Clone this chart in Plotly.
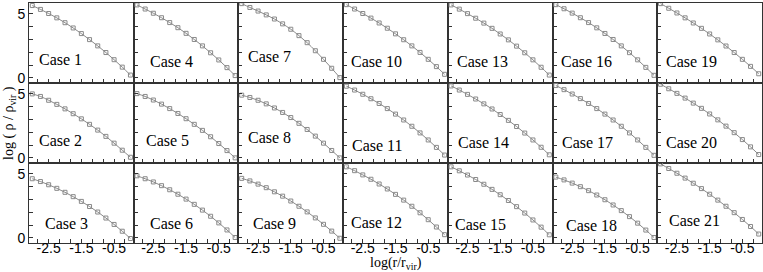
import plotly.graph_objects as go
from plotly.subplots import make_subplots

log_r = [-3.0, -2.75, -2.5, -2.25, -2.0, -1.75, -1.5, -1.25, -1.0, -0.75, -0.5, -0.25, 0.0]

case_1 = [5.65, 5.35, 5.03, 4.69, 4.31, 3.9, 3.46, 2.99, 2.5, 1.98, 1.42, 0.84, 0.22]
case_4 = [5.7, 5.38, 5.05, 4.7, 4.32, 3.92, 3.48, 3.0, 2.5, 1.96, 1.4, 0.8, 0.18]
case_7 = [5.8, 5.5, 5.22, 4.92, 4.6, 4.22, 3.8, 3.3, 2.75, 2.12, 1.45, 0.75, 0.02]
case_10 = [5.72, 5.38, 5.03, 4.67, 4.29, 3.88, 3.44, 2.98, 2.5, 1.99, 1.45, 0.88, 0.28]
case_13 = [5.7, 5.37, 5.02, 4.66, 4.28, 3.87, 3.43, 2.97, 2.48, 1.96, 1.41, 0.83, 0.22]
case_16 = [5.72, 5.4, 5.06, 4.7, 4.32, 3.91, 3.47, 3.0, 2.5, 1.97, 1.41, 0.82, 0.2]
case_19 = [5.8, 5.44, 5.07, 4.69, 4.29, 3.87, 3.43, 2.97, 2.49, 1.98, 1.45, 0.9, 0.32]

case_2 = [5.0, 4.8, 4.5, 4.18, 3.83, 3.45, 3.05, 2.62, 2.17, 1.68, 1.15, 0.6, 0.05]
case_5 = [5.02, 4.8, 4.52, 4.2, 3.85, 3.47, 3.06, 2.62, 2.15, 1.65, 1.12, 0.57, 0.0]
case_8 = [4.9, 4.72, 4.5, 4.22, 3.9, 3.55, 3.15, 2.7, 2.22, 1.7, 1.15, 0.58, 0.0]
case_11 = [5.6, 5.3, 4.97, 4.62, 4.25, 3.85, 3.42, 2.96, 2.47, 1.95, 1.4, 0.82, 0.22]
case_14 = [5.62, 5.3, 4.96, 4.6, 4.22, 3.82, 3.39, 2.93, 2.45, 1.94, 1.4, 0.83, 0.24]
case_17 = [5.65, 5.33, 4.99, 4.63, 4.25, 3.85, 3.42, 2.96, 2.47, 1.95, 1.4, 0.82, 0.2]
case_20 = [5.75, 5.4, 5.04, 4.67, 4.28, 3.87, 3.43, 2.97, 2.48, 1.97, 1.43, 0.86, 0.26]

case_3 = [4.62, 4.4, 4.15, 3.87, 3.56, 3.22, 2.85, 2.45, 2.02, 1.55, 1.05, 0.52, -0.05]
case_6 = [4.85, 4.62, 4.37, 4.08, 3.76, 3.41, 3.03, 2.62, 2.17, 1.69, 1.17, 0.62, 0.03]
case_9 = [4.65, 4.45, 4.2, 3.92, 3.6, 3.26, 2.88, 2.47, 2.03, 1.56, 1.06, 0.53, -0.03]
case_12 = [5.55, 5.25, 4.92, 4.58, 4.21, 3.82, 3.4, 2.95, 2.47, 1.96, 1.42, 0.85, 0.25]
case_15 = [5.55, 5.24, 4.91, 4.56, 4.19, 3.79, 3.37, 2.92, 2.44, 1.94, 1.4, 0.84, 0.24]
case_18 = [4.75, 4.53, 4.28, 4.0, 3.69, 3.35, 2.98, 2.57, 2.13, 1.66, 1.15, 0.61, 0.03]
case_21 = [5.78, 5.42, 5.05, 4.67, 4.27, 3.85, 3.41, 2.95, 2.47, 1.97, 1.44, 0.89, 0.3]

case_names = [
    ["Case 1", "Case 4", "Case 7", "Case 10", "Case 13", "Case 16", "Case 19"],
    ["Case 2", "Case 5", "Case 8", "Case 11", "Case 14", "Case 17", "Case 20"],
    ["Case 3", "Case 6", "Case 9", "Case 12", "Case 15", "Case 18", "Case 21"],
]
case_values = [
    [case_1, case_4, case_7, case_10, case_13, case_16, case_19],
    [case_2, case_5, case_8, case_11, case_14, case_17, case_20],
    [case_3, case_6, case_9, case_12, case_15, case_18, case_21],
]
x_tick_vals = [-2.5, -1.5, -0.5]
x_tick_text = ["-2.5", "-1.5", "-0.5"]
y_tick_vals = [0, 5]
y_tick_text = ["0", "5"]

# label placement within each panel (pixels from panel left / top)
label_pos = [
    [(8, 56), (14, 58), (8, 53), (6, 58), (7, 58), (6, 58), (7, 58)],
    [(8, 57), (10, 57), (8, 54), (7, 62), (8, 59), (7, 59), (7, 59)],
    [(14, 60), (14, 60), (13, 60), (6, 59), (5, 61), (11, 62), (10, 57)],
]

W, H = 763, 272
ML, MR, MT, MB = 29, 1, 3, 29
nrows, ncols = 3, 7
pw = (W - ML - MR) / ncols
ph = (H - MT - MB) / nrows

fig = make_subplots(rows=nrows, cols=ncols, horizontal_spacing=0, vertical_spacing=0)

line_col = "#8a8a8a"
axis_col = "#333333"

for r in range(nrows):
    for c in range(ncols):
        fig.add_trace(
            go.Scatter(
                x=log_r, y=case_values[r][c], mode="lines+markers",
                line=dict(color=line_col, width=1, shape="spline"),
                marker=dict(symbol="square-open", size=4, color=line_col, line=dict(width=1)),
                showlegend=False, hoverinfo="skip",
            ),
            row=r + 1, col=c + 1,
        )
        fig.update_xaxes(
            range=[-3.1, 0.1], tickvals=x_tick_vals, ticktext=x_tick_text,
            showticklabels=(r == nrows - 1), ticks="inside", ticklen=4, tickcolor=axis_col,
            ticklabelstandoff=-8,
            minor=dict(tick0=-2.5, dtick=1 / 3, ticks="inside", ticklen=4, tickcolor=axis_col),
            showline=True, linecolor=axis_col, linewidth=1, mirror=True,
            showgrid=False, zeroline=False,
            tickfont=dict(family="Liberation Sans", size=14, color="black"),
            row=r + 1, col=c + 1,
        )
        fig.update_yaxes(
            range=[-0.4, 5.85], tickvals=y_tick_vals, ticktext=y_tick_text,
            showticklabels=(c == 0), ticks="inside", ticklen=4, tickcolor=axis_col,
            minor=dict(dtick=1, ticks="inside", ticklen=4, tickcolor=axis_col),
            showline=True, linecolor=axis_col, linewidth=1, mirror=True,
            showgrid=False, zeroline=False,
            tickfont=dict(family="Liberation Sans", size=14, color="black"),
            row=r + 1, col=c + 1,
        )
        dx, dy = label_pos[r][c]
        px_left = ML + c * pw + dx
        py_center = MT + r * ph + dy
        fig.add_annotation(
            x=(px_left - ML) / (W - ML - MR), y=1 - (py_center - MT) / (H - MT - MB),
            xref="paper", yref="paper", xanchor="left", yanchor="middle",
            text=case_names[r][c], showarrow=False,
            font=dict(family="Liberation Serif", size=16, color="black"),
        )

fig.add_annotation(
    x=0.5, y=-11 / (H - MT - MB), xref="paper", yref="paper",
    text="log(r/r<sub>vir</sub>)", showarrow=False, yanchor="top", borderpad=0,
    font=dict(family="Liberation Serif", size=14, color="black"),
)
fig.add_annotation(
    x=-20 / (W - ML - MR), y=0.5, xref="paper", yref="paper",
    text="log ( ρ / ρ<sub>vir</sub> )", showarrow=False, textangle=-90,
    xanchor="center", yanchor="middle",
    font=dict(family="Liberation Serif", size=14, color="black"),
)

fig.update_layout(
    width=W, height=H,
    margin=dict(l=ML, r=MR, t=MT, b=MB),
    paper_bgcolor="white", plot_bgcolor="white",
)

fig.write_html(
    "out.html",
    config={"displayModeBar": False},
    post_script="document.body.style.margin='0';document.body.style.padding='0';",
)
